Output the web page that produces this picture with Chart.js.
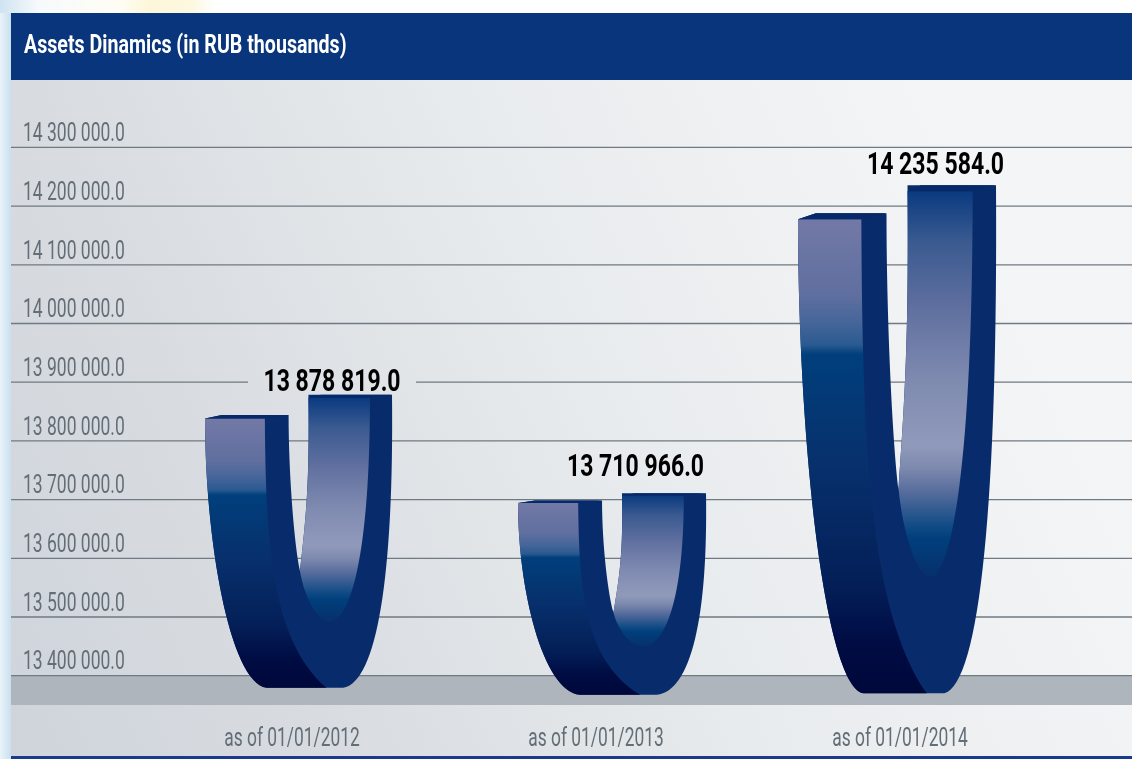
<!DOCTYPE html>
<html>
<head>
<meta charset="utf-8">
<title>Assets Dinamics</title>
<script src="https://cdn.jsdelivr.net/npm/chart.js@4"></script>
<style>
  html, body { margin: 0; padding: 0; background: #fff; }
  canvas { display: block; }
</style>
</head>
<body>
<canvas id="assetsChart" width="1132" height="759"></canvas>
<script>
const chartTitle = "Assets Dinamics (in RUB thousands)";
const dates = ["as of 01/01/2012", "as of 01/01/2013", "as of 01/01/2014"];
const valueLabels = ["13 878 819.0", "13 710 966.0", "14 235 584.0"];
// right arm of each U (the stated value)
const assets = [13878819, 13710966, 14235584];
// left arm, inner bottom and outer bottom of each U
const leftArm = [13844000, 13698500, 14188000];
const innerBottom = [13491500, 13449000, 13568000];
const outerBottom = [13379400, 13367500, 13370000];

const tickMin = 13400000;
const tickMax = 14300000;
const tickStep = 100000;

const panel = { left: 11, top: 13, right: 1132, bottom: 757 };
const FONT = "Roboto, 'Liberation Sans', sans-serif";

// horizontal placement of each U and its label, relative to the category centre
const uOffset = [6.5, 16, -3];
const uWidth = [187, 188, 198];
const labelDx = [33.5, 23.5, 38.5];
const labelDy = [-12, -25, -19];

function panelGradient(ctx) {
  const g = ctx.createLinearGradient(panel.left, 700, 1000, 250);
  g.addColorStop(0, "#d0d5db");
  g.addColorStop(0.25, "#d8dce1");
  g.addColorStop(0.6, "#e8ebed");
  g.addColorStop(1, "#f4f5f7");
  return g;
}

function gradient(ctx, y0, y1, stops) {
  const g = ctx.createLinearGradient(0, y0, 0, y1);
  stops.forEach(s => g.addColorStop(s[0], s[1]));
  return g;
}

// no condensed face is available, so squeeze the text horizontally
function narrowText(ctx, text, x, y, font, color, sx, align) {
  ctx.save();
  ctx.font = font;
  ctx.fillStyle = color;
  ctx.textAlign = align;
  ctx.textBaseline = "middle";
  ctx.translate(x, y);
  ctx.scale(sx, 1);
  ctx.fillText(text, 0, 0);
  ctx.restore();
}

function drawU(ctx, x, w, tl, tr, d, b) {
  const L = x - w / 2;
  const R = x + w / 2;
  const X = f => L + f * w;
  const h = b - tl;
  const hr = b - tr;
  const jy = d - 0.224 * (d - tr);
  const depth = 0.0125 * h;

  // whole silhouette in the dark side colour
  ctx.beginPath();
  ctx.moveTo(L, tl + depth);
  ctx.lineTo(X(0.09), tl);
  ctx.lineTo(X(0.447), tl);
  ctx.bezierCurveTo(X(0.447), tl + 0.4 * (jy - tl), X(0.48), jy - 0.15 * (jy - tl), X(0.508), jy);
  ctx.bezierCurveTo(X(0.54), jy - 0.3 * (jy - tr), X(0.56), jy - 0.5 * (jy - tr), X(0.553), tr);
  ctx.lineTo(X(0.62), tr);
  ctx.lineTo(R, tr);
  ctx.bezierCurveTo(R + 2, tr + 0.62 * hr, X(0.92), b - 0.02 * hr, X(0.739), b);
  ctx.lineTo(X(0.33), b);
  ctx.bezierCurveTo(X(0.13), b - 0.02 * h, L, tl + 0.45 * h, L, tl + depth);
  ctx.closePath();
  ctx.fillStyle = "#082c6b";
  ctx.fill();

  // lit outer face of the left arm
  ctx.beginPath();
  ctx.moveTo(L, tl + depth);
  ctx.lineTo(X(0.32), tl + depth);
  ctx.bezierCurveTo(X(0.325), tl + 0.45 * h, X(0.35), b - 0.177 * h, X(0.65), b);
  ctx.lineTo(X(0.33), b);
  ctx.bezierCurveTo(X(0.13), b - 0.02 * h, L, tl + 0.45 * h, L, tl + depth);
  ctx.closePath();
  ctx.fillStyle = gradient(ctx, tl + depth, b, [
    [0, "#7379a6"], [0.16, "#5f6f9f"], [0.22, "#45659a"], [0.265, "#2a5a90"],
    [0.285, "#003f7c"], [0.52, "#07306c"], [0.77, "#041f58"], [0.89, "#000c44"], [1, "#00083a"]
  ]);
  ctx.fill();

  // inner face of the right arm
  const topIn = tr + depth;
  ctx.beginPath();
  ctx.moveTo(X(0.553), topIn);
  ctx.bezierCurveTo(X(0.56), jy - 0.5 * (jy - tr), X(0.54), jy - 0.3 * (jy - tr), X(0.508), jy);
  ctx.bezierCurveTo(X(0.53), jy + 0.5 * (d - jy), X(0.6), d, X(0.67), d);
  ctx.bezierCurveTo(X(0.775), d - 0.01 * (d - tr), X(0.882), d - 0.28 * (d - tr), X(0.882), topIn);
  ctx.closePath();
  ctx.fillStyle = gradient(ctx, topIn, d, [
    [0, "#0a3a80"], [0.13, "#3a5a90"], [0.3, "#5f6f9f"], [0.49, "#7f8ab0"],
    [0.66, "#8f9abb"], [0.72, "#7c88ad"], [0.78, "#566c9c"], [0.87, "#0f4a85"],
    [0.9, "#003f7c"], [1, "#07306c"]
  ]);
  ctx.fill();

  // thin top faces
  ctx.fillStyle = "#06296a";
  ctx.beginPath();
  ctx.moveTo(L, tl + depth);
  ctx.lineTo(X(0.09), tl);
  ctx.lineTo(X(0.447), tl);
  ctx.lineTo(X(0.32), tl + depth);
  ctx.closePath();
  ctx.fill();
  ctx.beginPath();
  ctx.moveTo(X(0.553), topIn);
  ctx.lineTo(X(0.62), tr);
  ctx.lineTo(R, tr);
  ctx.lineTo(X(0.882), topIn);
  ctx.closePath();
  ctx.fill();
}

const panelPlugin = {
  id: "panel",
  beforeDraw(chart) {
    const ctx = chart.ctx;
    const y = chart.scales.y;
    ctx.save();
    // pale strip down the left edge and along the top
    const side = ctx.createLinearGradient(0, 0, panel.left, 0);
    side.addColorStop(0, "#eaf3f9");
    side.addColorStop(1, "#c9e0ef");
    ctx.fillStyle = side;
    ctx.fillRect(0, 0, panel.left, 759);
    const top = ctx.createLinearGradient(0, 0, 300, 0);
    top.addColorStop(0, "#cfe3f1");
    top.addColorStop(0.13, "#f7fafc");
    top.addColorStop(0.4, "#fffdf5");
    top.addColorStop(0.5, "#fdf6d9");
    top.addColorStop(0.64, "#fdf8e0");
    top.addColorStop(0.72, "#ffffff");
    ctx.fillStyle = top;
    ctx.fillRect(0, 0, 300, panel.top);

    ctx.fillStyle = panelGradient(ctx);
    ctx.fillRect(panel.left, panel.top, panel.right - panel.left, panel.bottom - panel.top);
    ctx.fillStyle = "#08357c";
    ctx.fillRect(panel.left, panel.top, panel.right - panel.left, 67);
    // grey floor under the lowest tick
    ctx.fillStyle = "#aeb5bc";
    const floorTop = y.getPixelForValue(tickMin);
    ctx.fillRect(panel.left, floorTop, panel.right - panel.left, 705 - floorTop);
    ctx.fillStyle = "#1a3a8c";
    ctx.fillRect(panel.left, panel.bottom - 1, panel.right - panel.left, 3);
    ctx.restore();

    narrowText(ctx, chartTitle, 24, 47, "bold 25px " + FONT, "#fff", 0.785, "left");
  },
  beforeDatasetsDraw(chart) {
    const ctx = chart.ctx;
    const x = chart.scales.x;
    const y = chart.scales.y;
    ctx.save();
    ctx.strokeStyle = "#6f7a82";
    ctx.lineWidth = 1.3;
    y.ticks.forEach(t => {
      const py = y.getPixelForValue(t.value);
      ctx.beginPath();
      ctx.moveTo(panel.left, py);
      ctx.lineTo(panel.right, py);
      ctx.stroke();
      narrowText(ctx, t.label, y.left, py - 12.5, "400 25px " + FONT, "#646e76", 0.7, "left");
    });
    ctx.restore();
    x.ticks.forEach((t, i) => {
      narrowText(ctx, t.label, x.getPixelForTick(i), 740, "400 25px " + FONT, "#646e76", 0.695, "center");
    });
  },
  afterDatasetsDraw(chart) {
    const ctx = chart.ctx;
    const y = chart.scales.y;
    const bars = chart.getDatasetMeta(0).data;
    ctx.save();
    bars.forEach((bar, i) => {
      drawU(ctx, bar.x + uOffset[i], uWidth[i],
        y.getPixelForValue(leftArm[i]), bar.y,
        y.getPixelForValue(innerBottom[i]), y.getPixelForValue(outerBottom[i]));

      const lx = bar.x + uOffset[i] + labelDx[i];
      const ly = bar.y + labelDy[i];
      // the label interrupts any grid line behind it
      ctx.fillStyle = panelGradient(ctx);
      ctx.fillRect(lx - 84, ly - 12, 168, 22);
      narrowText(ctx, valueLabels[i], lx, ly, "bold 32px " + FONT, "#000", 0.72, "center");
    });
    ctx.restore();
  }
};

new Chart(document.getElementById("assetsChart").getContext("2d"), {
  type: "bar",
  data: {
    labels: dates,
    datasets: [{
      data: assets,
      backgroundColor: "transparent",
      borderWidth: 0
    }]
  },
  options: {
    responsive: false,
    animation: false,
    layout: { padding: { left: 23, right: 80, top: 147.4, bottom: 0 } },
    plugins: {
      legend: { display: false },
      tooltip: { enabled: false },
      title: { display: false }
    },
    scales: {
      x: {
        grid: { display: false },
        border: { display: false },
        ticks: { display: false },
        afterFit: s => { s.height = 83.3; }
      },
      y: {
        min: tickMin,
        max: tickMax,
        grid: { display: false },
        border: { display: false },
        afterFit: s => { s.width = 117; },
        afterBuildTicks: s => {
          s.ticks = [];
          for (let v = tickMin; v <= tickMax; v += tickStep) s.ticks.push({ value: v });
        },
        ticks: {
          display: false,
          callback: v => String(v).replace(/\B(?=(\d{3})+$)/g, " ") + ".0"
        }
      }
    }
  },
  plugins: [panelPlugin]
});
</script>
</body>
</html>
